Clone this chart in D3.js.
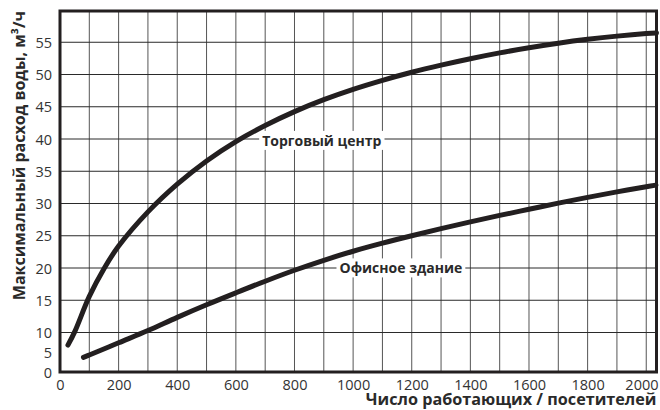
<!DOCTYPE html>
<html>
<head>
<meta charset="utf-8">
<script src="https://cdn.jsdelivr.net/npm/d3@7/dist/d3.min.js"></script>
<style>
  html, body { margin: 0; padding: 0; background: #fff; }
  svg { display: block; }
</style>
</head>
<body>
<svg id="chart" width="660" height="410"></svg>
<script>
// ---- data ----
const xTicks = [0, 200, 400, 600, 800, 1000, 1200, 1400, 1600, 1800, 2000];
const yTicks = [0, 5, 10, 15, 20, 25, 30, 35, 40, 45, 50, 55];
const xGrid = d3.range(100, 2001, 100);
const yGrid = [10, 15, 20, 25, 30, 35, 40, 45, 50, 55];

const mallName = "Торговый центр";
const mallX = [27, 50, 100, 150, 200, 300, 400, 500, 600, 700, 800, 900, 1000, 1100, 1200, 1300, 1400, 1500, 1600, 1700, 1800, 1900, 2000, 2035];
const mallY = [6.8, 10.1, 15.6, 19.9, 23.4, 28.7, 33.0, 36.6, 39.6, 42.1, 44.25, 46.1, 47.7, 49.1, 50.35, 51.45, 52.45, 53.35, 54.15, 54.85, 55.45, 55.95, 56.35, 56.45];

const officeName = "Офисное здание";
const officeX = [80, 100, 200, 300, 400, 500, 600, 700, 800, 900, 1000, 1100, 1200, 1300, 1400, 1500, 1600, 1700, 1800, 1900, 2000, 2033];
const officeY = [3.7, 4.3, 7.4, 10.3, 12.35, 14.3, 16.15, 17.95, 19.65, 21.2, 22.6, 23.85, 25.0, 26.1, 27.15, 28.15, 29.1, 30.05, 30.95, 31.8, 32.6, 32.85];

const xTitle = "Число работающих / посетителей";
const yTitle = "Максимальный расход воды, м³/ч";

// ---- layout ----
const svg = d3.select("#chart");
const L = 60, R = 656.5, T = 11, B = 372;
const x = d3.scaleLinear().domain([0, 2035]).range([L, R]);
// broken y-axis: 0..10 compressed
const y = d3.scaleLinear().domain([0, 10, 60]).range([B, 332.5, 10]);

const font = "'Open Sans', 'DejaVu Sans', sans-serif";
const ink = "#231f20";

// grid
svg.append("g").selectAll("line").data(xGrid).join("line")
  .attr("x1", d => x(d)).attr("x2", d => x(d))
  .attr("y1", T).attr("y2", B)
  .attr("stroke", "#555").attr("stroke-width", 1);
svg.append("g").selectAll("line").data(yGrid).join("line")
  .attr("x1", L).attr("x2", R)
  .attr("y1", d => y(d)).attr("y2", d => y(d))
  .attr("stroke", "#2a2a2a").attr("stroke-width", 1);

// series labels with white boxes
function seriesLabel(text, cx, cy) {
  const g = svg.append("g");
  const t = g.append("text")
    .attr("x", cx).attr("y", cy)
    .attr("text-anchor", "middle").attr("dy", "0.35em")
    .attr("font-family", font).attr("font-weight", 700)
    .attr("font-size", 14).attr("fill", "#2a2a2a")
    .text(text);
  const bb = t.node().getBBox();
  g.insert("rect", "text")
    .attr("x", bb.x - 3).attr("y", bb.y)
    .attr("width", bb.width + 6).attr("height", bb.height)
    .attr("fill", "#fff");
}
seriesLabel(mallName, x(893), y(40) + 2);
seriesLabel(officeName, x(1163), y(20) + 0.5);

// curves
const line = d3.line().x(d => x(d[0])).y(d => y(d[1])).curve(d3.curveCatmullRom.alpha(0.5));
[[mallX, mallY], [officeX, officeY]].forEach(([xs, ys]) => {
  svg.append("path")
    .datum(xs.map((v, i) => [v, ys[i]]))
    .attr("d", line)
    .attr("fill", "none").attr("stroke", ink)
    .attr("stroke-width", 5).attr("stroke-linecap", "round");
});

// frame
svg.append("rect")
  .attr("x", L).attr("y", T).attr("width", R - L).attr("height", B - T)
  .attr("fill", "none").attr("stroke", ink).attr("stroke-width", 3);

// axes tick labels
const xAxis = d3.axisBottom(x).tickValues(xTicks).tickFormat(d3.format("d")).tickSize(0).tickPadding(0);
const gx = svg.append("g").attr("transform", `translate(0,${B})`).call(xAxis);
gx.select(".domain").remove();
gx.selectAll("text").attr("font-family", font).attr("font-size", 14.5)
  .attr("fill", "#333").attr("dy", null).attr("y", 17.5);
// last label kept inside the picture
gx.selectAll(".tick").filter(d => d === 2000).select("text")
  .attr("text-anchor", "end").attr("x", R + 1.5 - x(2000));

const yAxis = d3.axisLeft(y).tickValues(yTicks).tickSize(0).tickPadding(8);
const gy = svg.append("g").attr("transform", `translate(${L},0)`).call(yAxis);
gy.select(".domain").remove();
gy.selectAll("text").attr("font-family", font).attr("font-size", 14.5)
  .attr("fill", "#333").attr("dy", "0.35em");

// titles
svg.append("text")
  .attr("x", R).attr("y", 405)
  .attr("text-anchor", "end")
  .attr("font-family", font).attr("font-weight", 700).attr("font-size", 16.2)
  .attr("fill", "#2a2a2a").text(xTitle);

svg.append("text")
  .attr("transform", `translate(25,${T}) rotate(-90)`)
  .attr("text-anchor", "end")
  .attr("font-family", font).attr("font-weight", 700).attr("font-size", 16)
  .attr("fill", "#2a2a2a").text(yTitle);
</script>
</body>
</html>
